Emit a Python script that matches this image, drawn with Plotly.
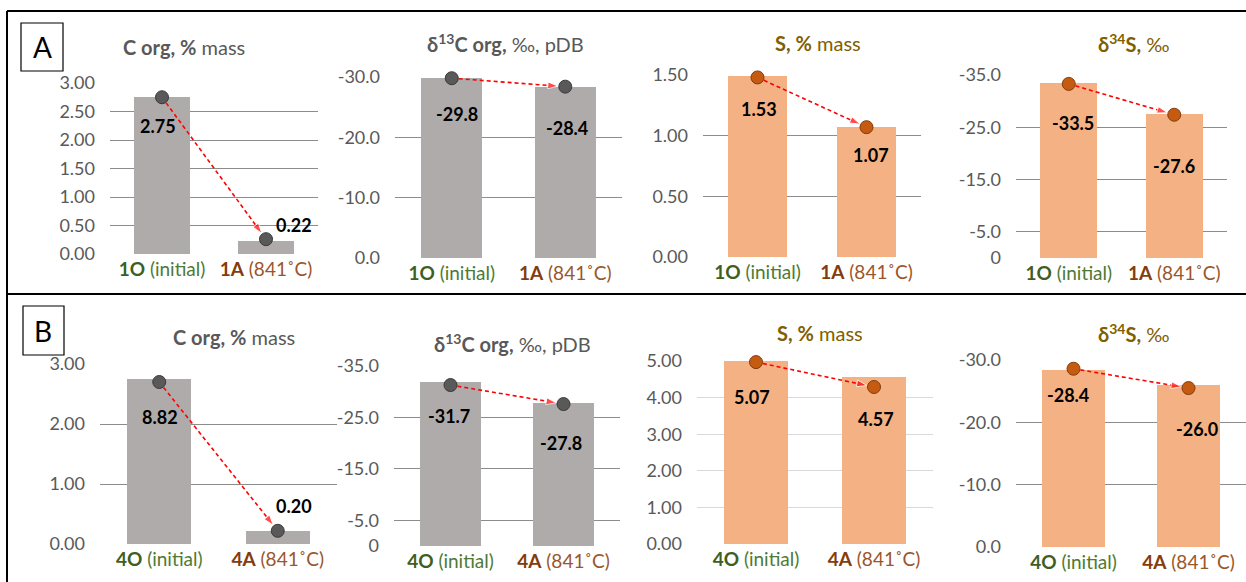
import plotly.graph_objects as go

# ---------------- data ----------------
samples_A = ["1O", "1A"]
samples_B = ["4O", "4A"]
sample_notes = ["(initial)", "(841˚C)"]

# bar heights (as drawn) / marker values (as drawn) / printed labels
corg_A_bars = [2.75, 0.22]
corg_A_marks = [2.75, 0.26]
corg_A_labels = ["2.75", "0.22"]

d13c_A_bars = [-29.8, -28.4]
d13c_A_marks = [-29.8, -28.4]
d13c_A_labels = ["-29.8", "-28.4"]

s_A_bars = [1.49, 1.07]
s_A_marks = [1.48, 1.07]
s_A_labels = ["1.53", "1.07"]

d34s_A_bars = [-33.5, -27.6]
d34s_A_marks = [-33.3, -27.4]
d34s_A_labels = ["-33.5", "-27.6"]

corg_B_bars = [2.75, 0.22]
corg_B_marks = [2.70, 0.22]
corg_B_labels = ["8.82", "0.20"]

d13c_B_bars = [-31.8, -27.8]
d13c_B_marks = [-31.3, -27.6]
d13c_B_labels = ["-31.7", "-27.8"]

s_B_bars = [5.0, 4.57]
s_B_marks = [4.97, 4.29]
s_B_labels = ["5.07", "4.57"]

d34s_B_bars = [-28.4, -26.0]
d34s_B_marks = [-28.6, -25.5]
d34s_B_labels = ["-28.4", "-26.0"]

# axis ticks
corg_A_ticks = [0, 0.5, 1.0, 1.5, 2.0, 2.5, 3.0]
corg_A_ticktext = ["0.00", "0.50", "1.00", "1.50", "2.00", "2.50", "3.00"]
d13c_A_ticks = [0, -10, -20, -30]
d13c_A_ticktext = ["0.0", "-10.0", "-20.0", "-30.0"]
s_A_ticks = [0, 0.5, 1.0, 1.5]
s_A_ticktext = ["0.00", "0.50", "1.00", "1.50"]
d34s_A_ticks = [0, -5, -15, -25, -35]
d34s_A_ticktext = ["0", "-5.0", "-15.0", "-25.0", "-35.0"]
corg_B_ticks = [0, 1, 2, 3]
corg_B_ticktext = ["0.00", "1.00", "2.00", "3.00"]
d13c_B_ticks = [0, -5, -15, -25, -35]
d13c_B_ticktext = ["0", "-5.0", "-15.0", "-25.0", "-35.0"]
s_B_ticks = [0, 1, 2, 3, 4, 5]
s_B_ticktext = ["0.00", "1.00", "2.00", "3.00", "4.00", "5.00"]
d34s_B_ticks = [0, -10, -20, -30]
d34s_B_ticktext = ["0.0", "-10.0", "-20.0", "-30.0"]

# ---------------- styles / layout ----------------
W, H = 1246, 582
FONT = "Lato"
GRAY_TXT = "#595959"
TITLE_S = "#7F6000"
BAR_GRAY = "#AFABAB"
BAR_ORANGE = "#F4B183"
MK_GRAY = ("#595959", "#3A3A3A")
MK_ORANGE = ("#C55A11", "#843C0C")
GRID = "#8C8C8C"
GRID_LIGHT = "#D9D9D9"


def px(x):
    return x / W


def py(y):
    return 1 - y / H


panels = [
    dict(s=samples_A, bars=corg_A_bars, marks=corg_A_marks, labels=corg_A_labels,
         tv=corg_A_ticks, tt=corg_A_ticktext, rng=[0, 3], box=(110, 318, 83, 254),
         bar=BAR_GRAY, mk=MK_GRAY, grid=GRID, off=[(-4, 29), (28, -14)],
         title="<b>C org, %</b> mass", tcol=GRAY_TXT, tpos=(184, 47)),
    dict(s=samples_A, bars=d13c_A_bars, marks=d13c_A_marks, labels=d13c_A_labels,
         tv=d13c_A_ticks, tt=d13c_A_ticktext, rng=[0, -30], box=(395, 622, 77, 258),
         bar=BAR_GRAY, mk=MK_GRAY, grid=GRID, off=[(5, 36), (2, 41)],
         title="<b>δ<sup>13</sup>C org,</b> ‰, pDB", tcol=GRAY_TXT, tpos=(505, 43)),
    dict(s=samples_A, bars=s_A_bars, marks=s_A_marks, labels=s_A_labels,
         tv=s_A_ticks, tt=s_A_ticktext, rng=[0, 1.5], box=(703, 921, 75, 257),
         bar=BAR_ORANGE, mk=MK_ORANGE, grid=GRID, off=[(1, 32), (4, 28)],
         title="<b>S, %</b> mass", tcol=TITLE_S, tpos=(818, 43)),
    dict(s=samples_A, bars=d34s_A_bars, marks=d34s_A_marks, labels=d34s_A_labels,
         tv=d34s_A_ticks, tt=d34s_A_ticktext, rng=[0, -35], box=(1016, 1227, 75, 258),
         bar=BAR_ORANGE, mk=MK_ORANGE, grid=GRID, off=[(4, 39), (0, 51)],
         title="<b>δ<sup>34</sup>S,</b> ‰", tcol=TITLE_S, tpos=(1133, 43)),
    dict(s=samples_B, bars=corg_B_bars, marks=corg_B_marks, labels=corg_B_labels,
         tv=corg_B_ticks, tt=corg_B_ticktext, rng=[0, 3], box=(100, 337, 364, 544),
         bar=BAR_GRAY, mk=MK_GRAY, grid=GRID, off=[(1, 35), (16, -25)],
         title="<b>C org, %</b> mass", tcol=GRAY_TXT, tpos=(234, 337)),
    dict(s=samples_B, bars=d13c_B_bars, marks=d13c_B_marks, labels=d13c_B_labels,
         tv=d13c_B_ticks, tt=d13c_B_ticktext, rng=[0, -35], box=(394, 620, 366, 546),
         bar=BAR_GRAY, mk=MK_GRAY, grid=GRID, off=[(-2, 31), (-3, 39)],
         title="<b>δ<sup>13</sup>C org,</b> ‰, pDB", tcol=GRAY_TXT, tpos=(512, 343)),
    dict(s=samples_B, bars=s_B_bars, marks=s_B_marks, labels=s_B_labels,
         tv=s_B_ticks, tt=s_B_ticktext, rng=[0, 5], box=(697, 933, 361, 544),
         bar=BAR_ORANGE, mk=MK_ORANGE, grid=GRID_LIGHT, off=[(-4, 35), (2, 32)],
         title="<b>S, %</b> mass", tcol=TITLE_S, tpos=(820, 333)),
    dict(s=samples_B, bars=d34s_B_bars, marks=d34s_B_marks, labels=d34s_B_labels,
         tv=d34s_B_ticks, tt=d34s_B_ticktext, rng=[0, -30], box=(1016, 1246, 360, 547),
         bar=BAR_ORANGE, mk=MK_ORANGE, grid=GRID, off=[(-6, 26), (8, 41)],
         title="<b>δ<sup>34</sup>S,</b> ‰", tcol=TITLE_S, tpos=(1133, 333)),
]

GREEN_B, GREEN = "#3F5F22", "#4E7A34"
BROWN_B, BROWN = "#843C0C", "#9A562A"

fig = go.Figure()
annotations = []
layout_axes = {}

for i, p in enumerate(panels):
    n = i + 1
    xa = "x" if n == 1 else f"x{n}"
    ya = "y" if n == 1 else f"y{n}"
    x0, x1, yt, yb = p["box"]
    ticktext = [
        f"<span style='color:{GREEN_B}'><b>{p['s'][0]}</b></span> <span style='color:{GREEN}'>{sample_notes[0]}</span>",
        f"<span style='color:{BROWN_B}'><b>{p['s'][1]}</b></span> <span style='color:{BROWN}'>{sample_notes[1]}</span>",
    ]
    layout_axes["xaxis" if n == 1 else f"xaxis{n}"] = dict(
        domain=[px(x0), px(x1)], anchor=ya, range=[-0.5, 1.5],
        tickmode="array", tickvals=[0, 1], ticktext=ticktext,
        showgrid=False, zeroline=False, showline=False, ticks="",
        ticklabelstandoff=2, automargin=False,
        tickfont=dict(family=FONT, size=19), fixedrange=True,
    )
    layout_axes["yaxis" if n == 1 else f"yaxis{n}"] = dict(
        domain=[py(yb), py(yt)], anchor=xa, range=p["rng"],
        tickmode="array", tickvals=p["tv"], ticktext=p["tt"],
        showgrid=True, gridcolor=p["grid"], gridwidth=1,
        zeroline=False, showline=False, ticks="",
        ticklabelstandoff=14, automargin=False,
        tickfont=dict(family=FONT, size=18, color=GRAY_TXT), fixedrange=True,
    )
    fig.add_trace(go.Bar(
        x=[0, 1], y=p["bars"], width=0.54, marker=dict(color=p["bar"], line=dict(width=0)),
        xaxis=xa, yaxis=ya, showlegend=False, hoverinfo="skip",
    ))
    fig.add_trace(go.Scatter(
        x=[0, 1], y=p["marks"], mode="lines+markers",
        line=dict(color="#FF0000", width=1.6, dash="4px,3px"),
        marker=dict(symbol=["circle", "arrow"], size=[1, 11], color="#FF0000",
                    angleref="previous", standoff=[0, 7]),
        xaxis=xa, yaxis=ya, showlegend=False, hoverinfo="skip", cliponaxis=False,
    ))
    fig.add_trace(go.Scatter(
        x=[0, 1], y=p["marks"], mode="markers",
        marker=dict(size=13, color=p["mk"][0], line=dict(color=p["mk"][1], width=1)),
        xaxis=xa, yaxis=ya, showlegend=False, hoverinfo="skip", cliponaxis=False,
    ))
    for j in range(2):
        dx, dy = p["off"][j]
        annotations.append(dict(
            x=j, y=p["marks"][j], xref=xa, yref=ya, text=f"<b>{p['labels'][j]}</b>",
            showarrow=False, xshift=dx, yshift=-dy,
            font=dict(family=FONT, size=18, color="#000000"),
        ))
    tx, ty = p["tpos"]
    annotations.append(dict(
        x=px(tx), y=py(ty), xref="paper", yref="paper", text=p["title"],
        showarrow=False, xanchor="center", yanchor="middle",
        font=dict(family=FONT, size=20, color=p["tcol"]),
    ))

# panel letters
for letter, (bx0, by0, bx1, by1) in [("A", (21, 23, 63, 71)), ("B", (23, 306, 64, 355))]:
    annotations.append(dict(
        x=px((bx0 + bx1) / 2), y=py((by0 + by1) / 2), xref="paper", yref="paper",
        text=letter, showarrow=False, xanchor="center", yanchor="middle",
        font=dict(family=FONT, size=28, color="#000000"),
    ))

shapes = [
    dict(type="rect", xref="paper", yref="paper", x0=px(21), x1=px(63), y0=py(71), y1=py(23),
         line=dict(color="#000000", width=1.2)),
    dict(type="rect", xref="paper", yref="paper", x0=px(23), x1=px(64), y0=py(355), y1=py(306),
         line=dict(color="#000000", width=1.2)),
    dict(type="line", xref="paper", yref="paper", x0=px(7), x1=1, y0=py(11), y1=py(11),
         line=dict(color="#000000", width=2)),
    dict(type="line", xref="paper", yref="paper", x0=px(7), x1=1, y0=py(294), y1=py(294),
         line=dict(color="#000000", width=2)),
    dict(type="line", xref="paper", yref="paper", x0=px(7), x1=px(7), y0=0, y1=py(11),
         line=dict(color="#000000", width=2)),
]

fig.update_layout(
    width=W, height=H, autosize=False,
    margin=dict(l=0, r=0, t=0, b=0, pad=0),
    paper_bgcolor="#FFFFFF", plot_bgcolor="rgba(0,0,0,0)",
    font=dict(family=FONT, color=GRAY_TXT),
    bargap=0, showlegend=False,
    annotations=annotations, shapes=shapes,
    **layout_axes,
)

fig.write_html("out.html", config={"displayModeBar": False, "staticPlot": True},
               post_script="document.body.style.margin='0';document.body.style.overflow='hidden';")
